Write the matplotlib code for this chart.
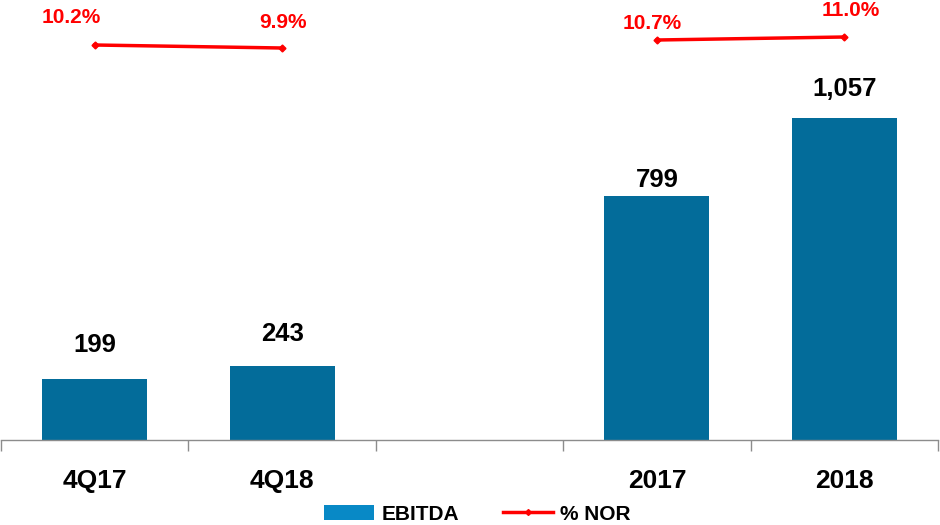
import matplotlib
matplotlib.use("Agg")
import matplotlib.pyplot as plt
import numpy as np
from matplotlib.patches import Patch
from matplotlib.lines import Line2D

# data
categories = ["4Q17", "4Q18", "", "2017", "2018"]
ebitda = [199, 243, np.nan, 799, 1057]
ebitda_labels = ["199", "243", "", "799", "1,057"]
nor_pct = [10.2, 9.9, np.nan, 10.7, 11.0]
nor_labels = ["10.2%", "9.9%", "", "10.7%", "11.0%"]

bar_color = "#036c9a"
legend_bar_color = "#0889c6"
line_color = "#ff0000"

plt.rcParams['font.family'] = ['Liberation Sans', 'DejaVu Sans']
plt.rcParams['font.weight'] = 'bold'

fig = plt.figure(figsize=(9.4, 5.25), dpi=100)
ax = fig.add_axes([0.001, 85 / 525, 0.997, 440 / 525])
x = np.arange(len(categories))

ax.bar(x, ebitda, width=0.56, color=bar_color, zorder=2)
ax.set_xlim(-0.5, len(categories) - 0.5)
ax.set_ylim(0, 1443)
# labels were placed by hand in the original, so each has its own gap
bar_label_gap = [20, 18, 0, 6.8, 15.8]
for xi, v, lab, g in zip(x, ebitda, ebitda_labels, bar_label_gap):
    if lab:
        ax.annotate(lab, (xi, v), xytext=(0, g), textcoords="offset points",
                    ha="center", va="baseline", fontsize=18.5, fontweight="bold", color="black")

for s in ["top", "right", "left"]:
    ax.spines[s].set_visible(False)
ax.spines["bottom"].set_color("#8c8c8c")
ax.spines["bottom"].set_linewidth(1.0)
ax.set_yticks([])
ax.set_xticks(x)
ax.set_xticklabels(categories, fontsize=19, fontweight="bold")
ax.tick_params(axis="x", which="major", length=0, pad=21)
ax.set_xticks(np.arange(-0.5, len(categories)), minor=True)
ax.tick_params(axis="x", which="minor", length=8, color="#8c8c8c", width=1)

ax2 = ax.twinx()
ax2.plot(x, nor_pct, color=line_color, lw=2.5, marker="D", markersize=3.5, zorder=3)
ax2.set_ylim(-29.3, 14.7)
ax2.axis("off")
label_offsets = [(-17, 16), (1, 14.4), (0, 0), (-3.6, 8), (4.3, 15)]
for xi, v, lab, off in zip(x, nor_pct, nor_labels, label_offsets):
    if lab:
        ax2.annotate(lab, (xi, v), xytext=off, textcoords="offset points",
                     ha="center", va="baseline", fontsize=15, fontweight="bold", color=line_color)

handles = [Patch(facecolor=legend_bar_color, edgecolor="none"),
           Line2D([0], [0], color=line_color, lw=2.5, marker="D", markersize=3)]
fig.legend(handles, ["EBITDA", "% NOR"], loc="center", bbox_to_anchor=(0.508, 1 - 514 / 525),
           ncol=2, frameon=False, handlelength=2.4, handleheight=0.75,
           columnspacing=2.1, handletextpad=0.35, prop={"weight": "bold", "size": 15})

fig.savefig("out.png", dpi=100)
